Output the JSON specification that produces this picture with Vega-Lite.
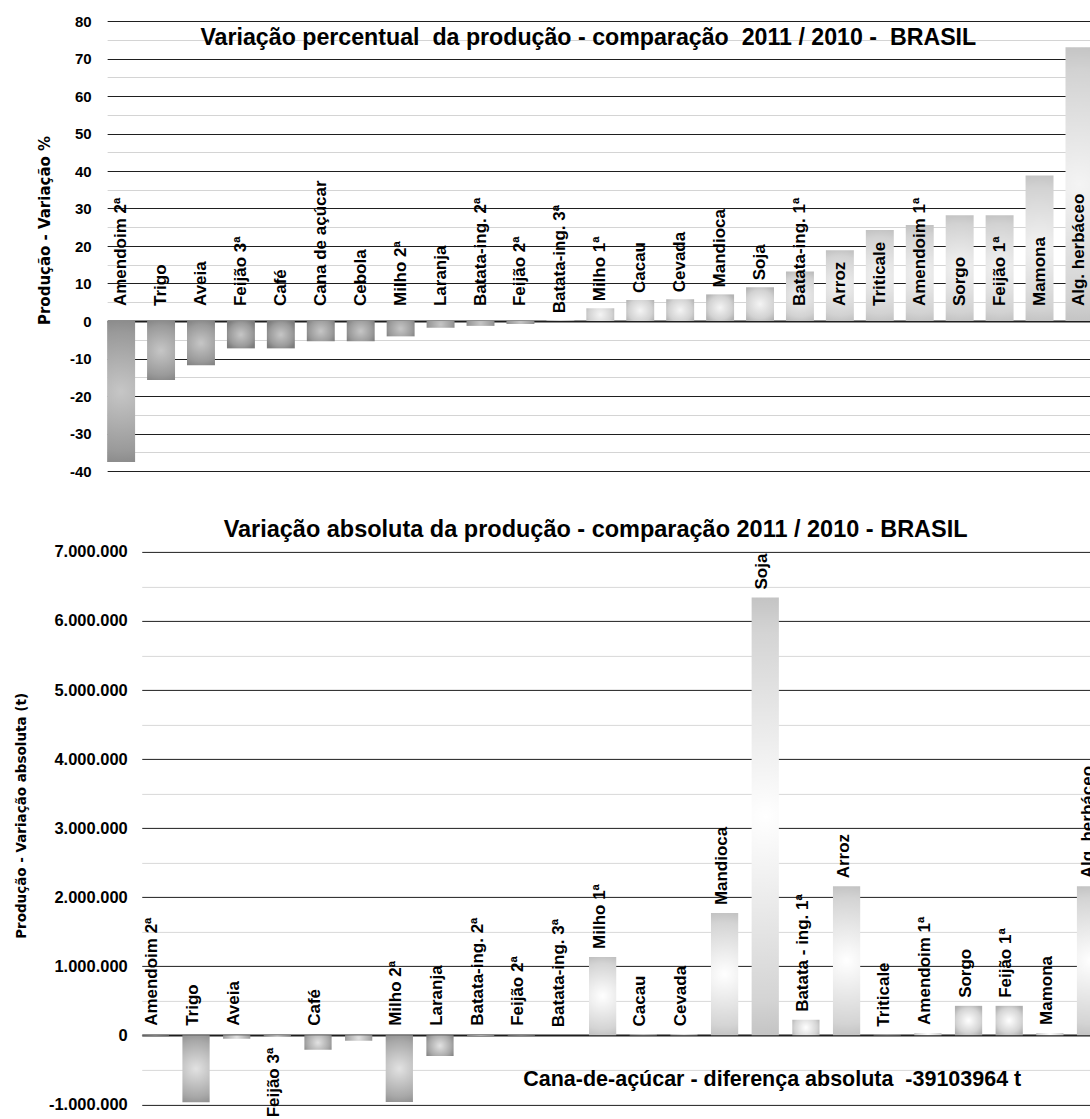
{
  "$schema": "https://vega.github.io/schema/vega-lite/v6.json",
  "padding": {"left": -20.85, "top": 14, "right": 0, "bottom": 0},
  "background": "white",
  "spacing": 29.9,
  "config": {
    "view": {"stroke": null},
    "font": "Liberation Sans",
    "locale": {"number": {"decimal": ",", "thousands": ".", "grouping": [3], "currency": ["R$", ""], "minus": "-"}}
  },
  "datasets": {
    "pct": [
      {"cultura": "Amendoim 2ª", "variacao": -37.6},
      {"cultura": "Trigo", "variacao": -15.7},
      {"cultura": "Aveia", "variacao": -11.8},
      {"cultura": "Feijão 3ª", "variacao": -7.3},
      {"cultura": "Café", "variacao": -7.3},
      {"cultura": "Cana de açúcar", "variacao": -5.4},
      {"cultura": "Cebola", "variacao": -5.4},
      {"cultura": "Milho 2ª", "variacao": -4.1},
      {"cultura": "Laranja", "variacao": -1.8},
      {"cultura": "Batata-ing. 2ª", "variacao": -1.3},
      {"cultura": "Feijão 2ª", "variacao": -0.8},
      {"cultura": "Batata-ing. 3ª", "variacao": 0.2},
      {"cultura": "Milho 1ª", "variacao": 3.4},
      {"cultura": "Cacau", "variacao": 5.6},
      {"cultura": "Cevada", "variacao": 5.8},
      {"cultura": "Mandioca", "variacao": 7.1},
      {"cultura": "Soja", "variacao": 9.0},
      {"cultura": "Batata-ing. 1ª", "variacao": 13.2},
      {"cultura": "Arroz", "variacao": 18.9},
      {"cultura": "Triticale", "variacao": 24.3},
      {"cultura": "Amendoim 1ª", "variacao": 25.6},
      {"cultura": "Sorgo", "variacao": 28.2},
      {"cultura": "Feijão 1ª", "variacao": 28.2},
      {"cultura": "Mamona", "variacao": 38.8},
      {"cultura": "Alg. herbáceo", "variacao": 73.0}
    ],
    "abs": [
      {"cultura": "Amendoim 2ª", "t": -5000},
      {"cultura": "Trigo", "t": -968000},
      {"cultura": "Aveia", "t": -50000},
      {"cultura": "Feijão 3ª", "t": -20000},
      {"cultura": "Café", "t": -210000},
      {"cultura": "Cebola", "t": -80000},
      {"cultura": "Milho 2ª", "t": -965000},
      {"cultura": "Laranja", "t": -300000},
      {"cultura": "Batata-ing. 2ª", "t": -8000},
      {"cultura": "Feijão 2ª", "t": -5000},
      {"cultura": "Batata-ing. 3ª", "t": 2000},
      {"cultura": "Milho 1ª", "t": 1136000},
      {"cultura": "Cacau", "t": 12000},
      {"cultura": "Cevada", "t": 15000},
      {"cultura": "Mandioca", "t": 1770000},
      {"cultura": "Soja", "t": 6340000},
      {"cultura": "Batata - ing. 1ª", "t": 224000},
      {"cultura": "Arroz", "t": 2158000},
      {"cultura": "Triticale", "t": 10000},
      {"cultura": "Amendoim 1ª", "t": 35000},
      {"cultura": "Sorgo", "t": 427000},
      {"cultura": "Feijão 1ª", "t": 427000},
      {"cultura": "Mamona", "t": 35000},
      {"cultura": "Alg. herbáceo", "t": 2158000}
    ]
  },
  "vconcat": [
    {
      "width": 983.7,
      "height": 450,
      "data": {"name": "pct"},
      "encoding": {
        "x": {"field": "cultura", "type": "nominal", "sort": null, "axis": null,
              "scale": {"range": [0, 986.3], "paddingInner": 0.3, "paddingOuter": 0}},
        "y": {"field": "variacao", "type": "quantitative",
              "scale": {"domain": [-40, 80], "nice": false},
              "axis": {
                "values": [-40, -35, -30, -25, -20, -15, -10, -5, 0, 5, 10, 15, 20, 25, 30, 35, 40, 45, 50, 55, 60, 65, 70, 75, 80],
                "labelExpr": "datum.value % 10 === 0 ? datum.label : ''",
                "labelOverlap": false,
                "gridColor": {"condition": {"test": "datum.value % 10 === 0", "value": "#1e1e1e"}, "value": "#d4d4d4"},
                "gridWidth": {"condition": {"test": "datum.value === 0", "value": 2}, "value": 1},
                "domain": false, "ticks": false,
                "labelFont": "Liberation Sans", "labelFontWeight": "bold", "labelFontSize": 15, "labelColor": "#000000", "labelPadding": 16,
                "title": "Produção - Variação %",
                "titleFont": "DejaVu Sans", "titleFontSize": 15, "titleFontWeight": "bold", "titleColor": "#000000",
                "titleAngle": 270, "titleAlign": "center", "titleBaseline": "middle", "titleX": -63, "titleY": 209
              }}
      },
      "layer": [
        {
          "transform": [{"filter": "datum.variacao < 0"}],
          "mark": {"type": "bar", "fill": {"gradient": "radial", "x1": 0.5, "y1": 0.5, "r1": 0, "x2": 0.5, "y2": 0.5, "r2": 0.6,
                   "stops": [{"offset": 0, "color": "#c6c6c6"}, {"offset": 0.7, "color": "#9a9a9a"}, {"offset": 1, "color": "#7c7c7c"}]}}
        },
        {
          "transform": [{"filter": "datum.variacao >= 0"}],
          "mark": {"type": "bar", "fill": {"gradient": "radial", "x1": 0.5, "y1": 0.5, "r1": 0, "x2": 0.5, "y2": 0.5, "r2": 0.6,
                   "stops": [{"offset": 0, "color": "#f4f4f4"}, {"offset": 0.7, "color": "#d2d2d2"}, {"offset": 1, "color": "#b4b4b4"}]}}
        },
        {
          "transform": [{"filter": "datum.variacao <= 0 || datum.variacao >= 10"}],
          "mark": {"type": "text", "angle": 270, "align": "left", "baseline": "middle", "dx": 15,
                   "font": "Liberation Sans", "fontWeight": "bold", "fontSize": 17, "color": "#000000"},
          "encoding": {
            "y": {"datum": 0, "type": "quantitative"},
            "text": {"field": "cultura"}
          }
        },
        {
          "transform": [{"filter": "datum.variacao > 0 && datum.variacao < 10"}],
          "mark": {"type": "text", "angle": 270, "align": "left", "baseline": "middle", "dx": 7,
                   "font": "Liberation Sans", "fontWeight": "bold", "fontSize": 17, "color": "#000000"},
          "encoding": {
            "text": {"field": "cultura"}
          }
        },
        {
          "transform": [{"filter": "datum.cultura === 'Milho 1ª'"}],
          "mark": {"type": "text", "align": "center", "baseline": "middle", "dx": -12,
                   "text": "Variação percentual\u00a0 da produção - comparação\u00a0 2011 / 2010 -\u00a0 BRASIL",
                   "font": "Liberation Sans", "fontWeight": "bold", "fontSize": 23.2, "color": "#000000"},
          "encoding": {
            "y": {"datum": 75.6, "type": "quantitative"}
          }
        }
      ]
    },
    {
      "width": 983.7,
      "height": 552.5,
      "data": {"name": "abs"},
      "resolve": {"scale": {"y": "independent"}, "axis": {"y": "independent"}},
      "layer": [
        {
          "encoding": {
            "x": {"field": "cultura", "type": "nominal", "sort": null, "axis": null,
                  "scale": {"range": [34.6, 997.0], "paddingInner": 0.33, "paddingOuter": 0}},
            "y": {"field": "t", "type": "quantitative",
                  "scale": {"domain": [-1000000, 7000000], "nice": false},
                  "axis": {
                    "values": [-1000000, 0, 1000000, 2000000, 3000000, 4000000, 5000000, 6000000, 7000000],
                    "format": ",d",
                    "labelOverlap": false,
                    "grid": false,
                    "translate": 35.1,
                    "position": -34.6,
                    "domain": false, "ticks": false,
                    "labelFont": "Liberation Sans", "labelFontWeight": "bold", "labelFontSize": 16.5, "labelColor": "#000000", "labelPadding": 14.5,
                    "title": "Produção - Variação absoluta (t)",
                    "titleFont": "DejaVu Sans", "titleFontSize": 13.5, "titleFontWeight": "bold", "titleColor": "#000000",
                    "titleAngle": 270, "titleAlign": "center", "titleBaseline": "middle", "titleX": -120.4, "titleY": 263.5
                  }}
          },
          "layer": [
            {
              "transform": [{"filter": "datum.t < 0"}],
              "mark": {"type": "bar", "clip": true, "fill": {"gradient": "radial", "x1": 0.5, "y1": 0.5, "r1": 0, "x2": 0.5, "y2": 0.5, "r2": 0.6,
                       "stops": [{"offset": 0, "color": "#e2e2e2"}, {"offset": 0.7, "color": "#a8a8a8"}, {"offset": 1, "color": "#848484"}]}}
            },
            {
              "transform": [{"filter": "datum.t >= 0"}],
              "mark": {"type": "bar", "clip": true, "fill": {"gradient": "radial", "x1": 0.5, "y1": 0.5, "r1": 0, "x2": 0.5, "y2": 0.5, "r2": 0.6,
                       "stops": [{"offset": 0, "color": "#ffffff"}, {"offset": 0.7, "color": "#d4d4d4"}, {"offset": 1, "color": "#b0b0b0"}]}}
            },
            {
              "transform": [{"filter": "datum.t > 0"}],
              "mark": {"type": "text", "clip": true, "angle": 270, "align": "left", "baseline": "middle", "dx": 8, "dy": -3,
                       "font": "Liberation Sans", "fontWeight": "bold", "fontSize": 17, "color": "#000000"},
              "encoding": {
                "text": {"field": "cultura"}
              }
            },
            {
              "transform": [{"filter": "datum.t <= 0 && datum.cultura !== 'Feijão 3ª' && datum.cultura !== 'Cebola'"}],
              "mark": {"type": "text", "clip": true, "angle": 270, "align": "left", "baseline": "middle", "dx": 9.5, "dy": -3,
                       "font": "Liberation Sans", "fontWeight": "bold", "fontSize": 17, "color": "#000000"},
              "encoding": {
                "y": {"datum": 0, "type": "quantitative"},
                "text": {"field": "cultura"}
              }
            },
            {
              "transform": [{"filter": "datum.cultura === 'Feijão 3ª'"}],
              "mark": {"type": "text", "angle": 270, "align": "right", "baseline": "middle", "dx": -12.5, "dy": -3,
                       "font": "Liberation Sans", "fontWeight": "bold", "fontSize": 17, "color": "#000000"},
              "encoding": {
                "y": {"datum": 0, "type": "quantitative"},
                "text": {"field": "cultura"}
              }
            },
            {
              "transform": [{"filter": "datum.cultura === 'Milho 1ª'"}],
              "mark": {"type": "text", "align": "center", "baseline": "middle", "dx": -7,
                       "text": "Variação absoluta da produção - comparação 2011 / 2010 - BRASIL",
                       "font": "Liberation Sans", "fontWeight": "bold", "fontSize": 23.5, "color": "#000000"},
              "encoding": {
                "y": {"datum": 7311000, "type": "quantitative"}
              }
            },
            {
              "transform": [{"filter": "datum.cultura === 'Soja'"}],
              "mark": {"type": "text", "align": "center", "baseline": "middle", "dx": 7,
                       "text": "Cana-de-açúcar - diferença absoluta\u00a0 -39103964 t",
                       "font": "Liberation Sans", "fontWeight": "bold", "fontSize": 21.5, "color": "#000000"},
              "encoding": {
                "y": {"datum": -640000, "type": "quantitative"}
              }
            }
          ]
        },
        {
          "mark": {"type": "point", "opacity": 0},
          "encoding": {
            "x": {"field": "cultura", "type": "nominal", "sort": null, "axis": null,
                  "scale": {"range": [34.6, 997.0], "paddingInner": 0.33, "paddingOuter": 0}},
            "y": {"field": "t", "type": "quantitative",
                  "scale": {"domain": [-1000000, 7000000], "nice": false},
                  "axis": {
                    "orient": "left",
                    "values": [-1000000, -500000, 0, 500000, 1000000, 1500000, 2000000, 2500000, 3000000, 3500000, 4000000, 4500000, 5000000, 5500000, 6000000, 6500000, 7000000],
                    "grid": true, "labels": false, "ticks": false, "domain": false, "title": null,
                    "gridColor": {"condition": {"test": "datum.value % 1000000 === 0", "value": "#1e1e1e"}, "value": "#d8d8d8"},
                    "gridWidth": {"condition": {"test": "datum.value === 0", "value": 2}, "value": 1}
                  }}
          }
        }
      ]
    }
  ]
}
